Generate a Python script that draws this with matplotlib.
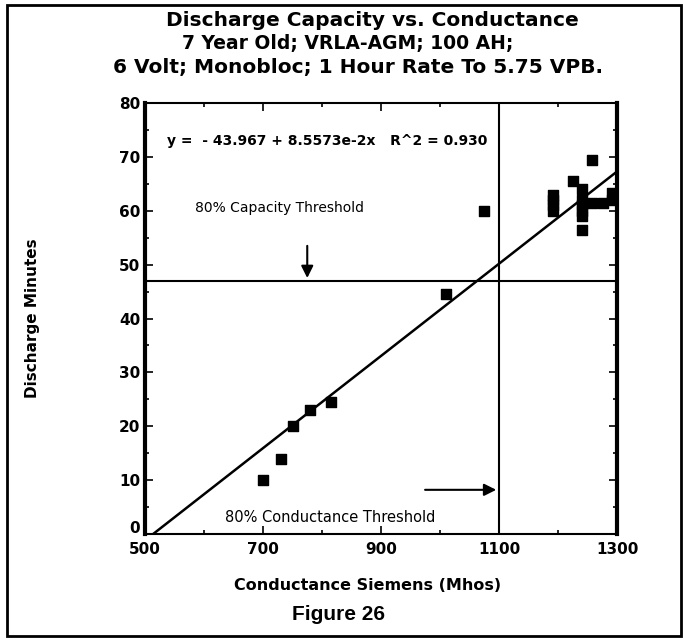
import matplotlib.pyplot as plt
import matplotlib.transforms as mtransforms
import numpy as np
from matplotlib.patches import Rectangle

# Data
conductance = [700, 730, 750, 780, 815, 1010, 1075,
               1192, 1192, 1192, 1192, 1225, 1240, 1240, 1240, 1240, 1240, 1240,
               1258, 1258, 1276, 1291, 1291]
discharge = [10, 14, 20, 23, 24.5, 44.5, 60,
             60, 61, 62, 63, 65.5, 64, 56.5, 59, 60, 61, 62,
             69.5, 61.5, 61.5, 62, 63.3]

intercept = -43.967
slope = 8.5573e-2
capacity_threshold = 47
conductance_threshold = 1100

x_ticks = [500, 700, 900, 1100, 1300]
y_ticks = [0, 10, 20, 30, 40, 50, 60, 70, 80]

fig = plt.figure(figsize=(6.83, 6.41), dpi=100)
ax = fig.add_axes([145 / 683, 1 - 534 / 641, 472 / 683, 431 / 641])

ax.scatter(conductance, discharge, marker='s', s=55, color='black', zorder=3)

# regression line
x_fit = np.array([-intercept / slope, 1300])
ax.plot(x_fit, intercept + slope * x_fit, color='black', lw=1.8)

# thresholds
ax.axhline(capacity_threshold, color='black', lw=1.5)
ax.axvline(conductance_threshold, color='black', lw=1.5)

ax.set_xlim(500, 1300)
ax.set_ylim(0, 80)
ax.set_xticks(x_ticks)
ax.set_xticks(np.arange(500, 1301, 100), minor=True)
ax.set_yticks(y_ticks)
ax.set_yticks(np.arange(0, 81, 5), minor=True)
ax.tick_params(direction='in', top=True, right=True, which='both', width=1.2)
ax.tick_params(which='major', length=6, labelsize=11)
ax.tick_params(which='minor', length=3)
ax.tick_params(axis='x', pad=6)
for lbl in ax.get_xticklabels() + ax.get_yticklabels():
    lbl.set_fontweight('bold')
# the "0" sits a little above its tick in the original
zero_lbl = ax.get_yticklabels()[0]
zero_lbl.set_transform(zero_lbl.get_transform()
                       + mtransforms.ScaledTranslation(0, 5 / 72, fig.dpi_scale_trans))
for side in ['left', 'right']:
    ax.spines[side].set_linewidth(3)
for side in ['top', 'bottom']:
    ax.spines[side].set_linewidth(1.5)

ax.text(537, 73, 'y =  - 43.967 + 8.5573e-2x   R^2 = 0.930',
        fontsize=10, fontweight='bold', va='center')
ax.text(585, 60.5, '80% Capacity Threshold', fontsize=10, va='center')
ax.annotate('', xy=(775, capacity_threshold), xytext=(775, 54),
            arrowprops=dict(arrowstyle='-|>', color='black', lw=1.5,
                            mutation_scale=18))
ax.text(636, 3.0, '80% Conductance Threshold', fontsize=10.5, va='center')
ax.annotate('', xy=(conductance_threshold, 8.2), xytext=(970, 8.2),
            arrowprops=dict(arrowstyle='-|>', color='black', lw=1.5,
                            mutation_scale=18))

fig.text(372 / 683, 1 - 20 / 641, 'Discharge Capacity vs. Conductance',
         ha='center', va='center', fontsize=14.5, fontweight='bold')
fig.text(348 / 683, 1 - 44 / 641, '7 Year Old; VRLA-AGM; 100 AH;',
         ha='center', va='center', fontsize=13.5, fontweight='bold')
fig.text(358 / 683, 1 - 67 / 641, '6 Volt; Monobloc; 1 Hour Rate To 5.75 VPB.',
         ha='center', va='center', fontsize=14.5, fontweight='bold')

fig.text(33 / 683, 1 - 318 / 641, 'Discharge Minutes', rotation=90,
         ha='center', va='center', fontsize=11, fontweight='bold')
fig.text(368 / 683, 1 - 586 / 641, 'Conductance Siemens (Mhos)',
         ha='center', va='center', fontsize=11.5, fontweight='bold')
fig.text(338 / 683, 1 - 615 / 641, 'Figure 26', ha='center', va='center',
         fontsize=15, fontweight='bold', family='Liberation Sans')

# outer frame
fig.patches.append(Rectangle((7 / 683, 5 / 641), 674 / 683, 631 / 641,
                             transform=fig.transFigure, fill=False,
                             edgecolor='black', lw=2))

fig.savefig('out.png', dpi=100)
